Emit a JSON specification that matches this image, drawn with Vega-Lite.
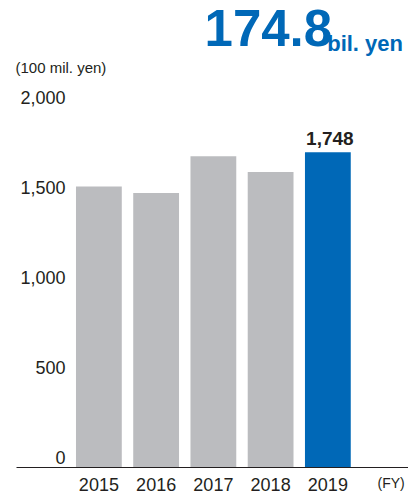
{
  "$schema": "https://vega.github.io/schema/vega-lite/v6.json",
  "width": 392,
  "height": 360,
  "autosize": "none",
  "padding": {"left": 16, "top": 107, "right": 0, "bottom": 34},
  "background": "white",
  "config": {
    "view": {"stroke": null},
    "font": "Liberation Sans",
    "text": {"font": "Liberation Sans"}
  },
  "title": {
    "text": "174.8\u00a0\u00a0\u00a0\u00a0\u00a0\u200b",
    "subtitle": "bil. yen",
    "anchor": "end",
    "frame": "group",
    "font": "Liberation Sans",
    "fontSize": 51,
    "fontWeight": "bold",
    "color": "#0068b7",
    "subtitleFont": "Liberation Sans",
    "subtitleFontSize": 22,
    "subtitleFontWeight": "bold",
    "subtitleColor": "#0068b7",
    "subtitlePadding": -23,
    "baseline": "top",
    "offset": 3,
    "dx": -5
  },
  "data": {
    "values": [
      {"year": "2015", "value": 1559},
      {"year": "2016", "value": 1522},
      {"year": "2017", "value": 1727},
      {"year": "2018", "value": 1639},
      {"year": "2019", "value": 1748}
    ]
  },
  "encoding": {
    "x": {
      "field": "year",
      "type": "nominal",
      "scale": {"domain": ["2015", "2016", "2017", "2018", "2019", "(FY)"], "paddingInner": 0.2, "paddingOuter": 0.524, "align": 1},
      "axis": {
        "title": null,
        "labelAngle": 0,
        "ticks": false,
        "domainColor": "#231f20",
        "domainWidth": 1,
        "labelFontSize": {"condition": {"test": "datum.value === '(FY)'", "value": 14}, "value": 18},
        "labelOffset": {"condition": {"test": "datum.value === '(FY)'", "value": 6}, "value": 0},
        "labelColor": "#231f20",
        "labelPadding": 9,
        "labelFont": "Liberation Sans"
      }
    },
    "y": {
      "field": "value",
      "type": "quantitative",
      "scale": {"domain": [0, 2000], "nice": false},
      "axis": {
        "values": [0, 500, 1000, 1500, 2000],
        "format": ",d",
        "domain": false,
        "ticks": false,
        "grid": false,
        "labelAlign": "right",
        "labelBaseline": "alphabetic",
        "labelOffset": -4,
        "labelPadding": -49,
        "labelFontSize": 18,
        "labelColor": "#231f20",
        "labelFont": "Liberation Sans",
        "title": "(100 mil. yen)",
        "titleAngle": 0,
        "titleAlign": "left",
        "titleBaseline": "middle",
        "titleX": -1,
        "titleY": -40,
        "titleFontSize": 15,
        "titleFontWeight": "normal",
        "titleColor": "#231f20",
        "titleFont": "Liberation Sans"
      }
    }
  },
  "layer": [
    {
      "mark": {"type": "bar"},
      "encoding": {
        "color": {
          "condition": {"test": "datum.year === '2019'", "value": "#0068b7"},
          "value": "#bbbcbf"
        }
      }
    },
    {
      "transform": [{"filter": "datum.year === '2019'"}],
      "mark": {"type": "text", "baseline": "alphabetic", "dy": -7, "dx": 2, "fontSize": 19, "fontWeight": "bold", "color": "#231f20"},
      "encoding": {
        "text": {"field": "value", "type": "quantitative", "format": ",d"}
      }
    }
  ]
}
